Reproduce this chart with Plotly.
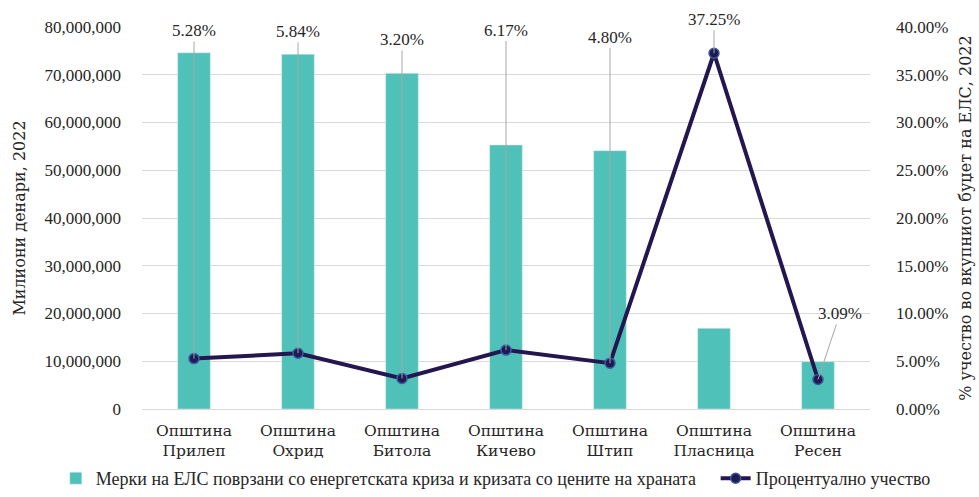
import plotly.graph_objects as go

categories = ["Општина<br>Прилеп", "Општина<br>Охрид", "Општина<br>Битола", "Општина<br>Кичево",
              "Општина<br>Штип", "Општина<br>Пласница", "Општина<br>Ресен"]
measures = [74600000, 74300000, 70300000, 55300000, 54100000, 16900000, 9900000]
share_pct = [5.28, 5.84, 3.20, 6.17, 4.80, 37.25, 3.09]
labels = ["5.28%", "5.84%", "3.20%", "6.17%", "4.80%", "37.25%", "3.09%"]

bar_name = "Мерки на ЕЛС поврзани со енергетската криза и кризата со цените на храната"
line_name = "Процентуално учество"

FONT = "Liberation Serif"
CYR = "DejaVu Serif"

fig = go.Figure()
fig.add_trace(go.Bar(
    x=categories, y=measures, name=bar_name, legend="legend",
    marker=dict(color="#4fc1b9"), width=0.314, yaxis="y"))
fig.add_trace(go.Scatter(
    x=categories, y=share_pct, name=line_name, yaxis="y2", legend="legend2",
    mode="lines+markers",
    line=dict(color="#24174f", width=4),
    marker=dict(size=10, color="#1f1a52", line=dict(color="#3a5ba0", width=1.5))))

# label offsets in pixels (ax, ay) relative to the points
offsets = [(0, -328), (0, -322), (0, -339), (0, -320), (0, -326), (0, -34), (22, -66)]
for c, v, t, (ax, ay) in zip(categories, share_pct, labels, offsets):
    fig.add_annotation(x=c, y=v, xref="x", yref="y2", text=t, showarrow=True,
                       ax=ax, ay=ay, arrowhead=0, arrowwidth=1, arrowcolor="#a6a6a6",
                       standoff=0, startstandoff=0,
                       font=dict(family=FONT, size=17, color="#262626"))

legend_font = dict(family=FONT, size=18, color="#262626")
fig.update_layout(
    width=979, height=497,
    margin=dict(l=142, r=109, t=27, b=88, autoexpand=False),
    plot_bgcolor="white", paper_bgcolor="white",
    font=dict(family=FONT, size=17, color="#262626"),
    showlegend=True,
    legend=dict(orientation="h", x=0.057, xanchor="left", xref="container",
                y=-0.032, yanchor="bottom", yref="container", font=legend_font),
    legend2=dict(orientation="h", x=0.731, xanchor="left", xref="container",
                 y=-0.032, yanchor="bottom", yref="container", font=legend_font),
    xaxis=dict(showgrid=False, tickfont=dict(family=CYR, size=15.5), ticks="", showline=False,
               automargin=False, ticklabelstandoff=10),
    yaxis=dict(range=[0, 80000000], dtick=10000000, tickformat=",d",
               showgrid=True, gridcolor="#d9d9d9", gridwidth=1,
               zeroline=True, zerolinecolor="#d9d9d9", zerolinewidth=1,
               ticks="", showline=False, ticklabelstandoff=20, automargin=False,
               title=dict(text="Милиони денари, 2022", font=dict(family=CYR, size=16), standoff=14)),
    yaxis2=dict(range=[0, 40], dtick=5, overlaying="y", side="right",
                tickformat=".2f", ticksuffix="%", showgrid=False, zeroline=False,
                ticks="", showline=False, ticklabelstandoff=25, automargin=False,
                title=dict(text="% учество во вкупниот буџет на ЕЛС, 2022",
                           font=dict(family=CYR, size=16), standoff=12)),
)

fig.write_html("out.html", config={"displayModeBar": False},
               post_script="document.body.style.margin='0';document.body.style.overflow='hidden';")
